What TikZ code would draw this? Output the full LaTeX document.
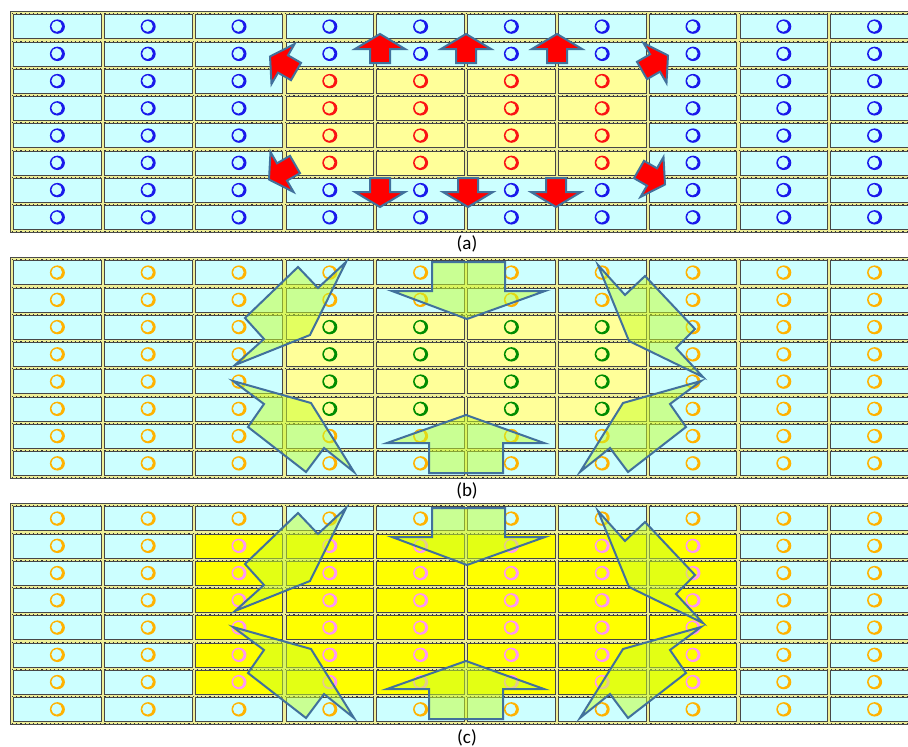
\documentclass[tikz,border=0pt]{standalone}
\usepackage{fontspec}
\setmainfont{Carlito}
\usepackage{tikz}
\usetikzlibrary{calc}
\definecolor{cellcyan}{RGB}{204,255,255}
\definecolor{cellpale}{RGB}{255,255,153}
\definecolor{cellgold}{RGB}{255,255,0}
\definecolor{gapyellow}{RGB}{238,238,150}
\definecolor{edgeblue}{RGB}{65,113,156}
\definecolor{dotblue}{RGB}{25,25,235}
\definecolor{dotred}{RGB}{250,20,20}
\definecolor{dotgreen}{RGB}{0,140,0}
\definecolor{dotorange}{RGB}{255,178,0}
\definecolor{dotpink}{RGB}{255,150,245}
\definecolor{arrowgreen}{RGB}{200,255,40}

\tikzset{
  cellbox/.style={draw=black!72,line width=0.7pt},
  redarrow/.style={fill=red,draw=edgeblue,line width=2pt,line join=miter},
  greenarrow/.style={fill=arrowgreen,fill opacity=0.5,draw=edgeblue,line width=2pt,line join=miter},
  tag/.style={font=\fontsize{19}{22}\selectfont,inner sep=0pt}
}

% one ring glyph: x, y, colour
\newcommand{\ringdot}[3]{%
  \fill[#3,even odd rule] (#1,#2) ellipse[x radius=7.5pt,y radius=7.2pt]
    (#1-0.7,#2-0.3) ellipse[x radius=5.4pt,y radius=5.6pt];}

% rings of a 10x8 grid, one colour inside a block, one outside
% #1..#4 = col from, col to, row from, row to ; #5 inside colour ; #6 outside colour
\newcommand{\ringgrid}[6]{%
  \foreach \c in {0,...,9}{
    \foreach \r in {0,...,7}{
      \pgfmathtruncatemacro{\inside}{(\c>=#1)&&(\c<=#2)&&(\r>=#3)&&(\r<=#4)}
      \ifnum\inside=1 \def\rc{#5}\else\def\rc{#6}\fi
      \ringdot{57.4+90.8*\c}{26.6+27.25*\r}{\rc}
    }
  }}

% cells, gaps and frame of one panel
\newcommand{\cellgrid}{%
  \foreach \r in {0,...,8}
    \draw[gapyellow,line width=2.6pt] (10,13+27.25*\r) -- (920,13+27.25*\r);
  \foreach \c in {0,...,10}
    \draw[gapyellow,line width=2.6pt] (12+90.8*\c,11) -- (12+90.8*\c,231);
  \foreach \r in {0,...,8}
    \draw[black!80,line width=0.5pt,dash pattern=on 1.2pt off 3pt] (12,13.6+27.25*\r) -- (920,13.6+27.25*\r);
  \foreach \c in {0,...,9}
    \foreach \r in {0,...,7}
      \draw[cellbox] (12+90.8*\c+1.6,13+27.25*\r+1.6) rectangle (12+90.8*\c+89.2,13+27.25*\r+25.65);
  \draw[black!70,line width=0.8pt] (10.5,11.5) rectangle (921.5,232.5);}

\begin{document}
\begin{tikzpicture}[x=1pt,y=-1pt]
  \useasboundingbox (0,0) rectangle (908,747);
  \clip (0,0) rectangle (908,747);

  % ---------------- (a) ----------------
  \fill[cellcyan] (12,13) rectangle (920,231);
  \fill[cellpale] (12+90.8*3,13+27.25*2) rectangle (12+90.8*7,13+27.25*6);
  \cellgrid
  \ringgrid{3}{6}{2}{5}{dotred}{dotblue}
  % up and down arrows
  \foreach \cx in {380,466,557} {
    \draw[redarrow] (\cx,34) -- (\cx+25,49) -- (\cx+10,49) -- (\cx+10,63)
      -- (\cx-10,63) -- (\cx-10,49) -- (\cx-25,49) -- cycle;
  }
  \foreach \cx in {380,468,556} {
    \draw[redarrow] (\cx,207) -- (\cx+25,192) -- (\cx+10,192) -- (\cx+10,178)
      -- (\cx-10,178) -- (\cx-10,192) -- (\cx-25,192) -- cycle;
  }
  % corner arrows
  \foreach \px/\py/\ang in {283/64/150, 655/63/30, 282/172/210, 652/177/330} {
    \begin{scope}[shift={(\px,\py)},rotate=\ang]
      \draw[redarrow] (15,0) -- (0,23) -- (0,10) -- (-15,10) -- (-15,-10) -- (0,-10) -- (0,-23) -- cycle;
    \end{scope}
  }
  \node[tag] (capa) at (467,243.5) {(a)};

  % ---------------- (b) ----------------
  \begin{scope}[shift={(0,246)}]
    \fill[cellcyan] (12,13) rectangle (920,231);
    \fill[cellpale] (12+90.8*3,13+27.25*2) rectangle (12+90.8*7,13+27.25*6);
    \cellgrid
    \ringgrid{3}{6}{2}{5}{dotgreen}{dotorange}
  \end{scope}
  \node[tag] (capb) at (467,491) {(b)};

  % ---------------- (c) ----------------
  \begin{scope}[shift={(0,492)}]
    \fill[cellcyan] (12,13) rectangle (920,231);
    \fill[cellgold] (12+90.8*2,13+27.25*1) rectangle (12+90.8*8,13+27.25*7);
    \cellgrid
    \ringgrid{2}{7}{1}{6}{dotpink}{dotorange}
  \end{scope}
  \node[tag] (capc) at (467,738) {(c)};

  % green arrows, same in (b) and (c)
  \foreach \dy in {0,246} {
    \begin{scope}[shift={(0,\dy)}]
      \draw[greenarrow] (432,262) -- (505,262) -- (505,291) -- (545,291) -- (467,319)
        -- (392,291) -- (432,291) -- cycle;
      \draw[greenarrow] (466,415) -- (544,443) -- (503,443) -- (503,473) -- (429,473)
        -- (429,443) -- (387,443) -- cycle;
      \draw[greenarrow] (346,262) -- (318,288) -- (298,267) -- (245,318) -- (264,339)
        -- (235,365) -- (310,335) -- cycle;
      \draw[greenarrow] (598,265) -- (625,295) -- (645,276) -- (695,329) -- (676,348)
        -- (703,377) -- (629,341) -- cycle;
      \draw[greenarrow] (701,381) -- (670,404) -- (686,427) -- (628,472) -- (610,448)
        -- (580,472) -- (623,403) -- cycle;
      \draw[greenarrow] (233,381) -- (264,404) -- (248,427) -- (306,472) -- (324,448)
        -- (354,472) -- (311,403) -- cycle;
    \end{scope}
  }
\end{tikzpicture}
\end{document}
